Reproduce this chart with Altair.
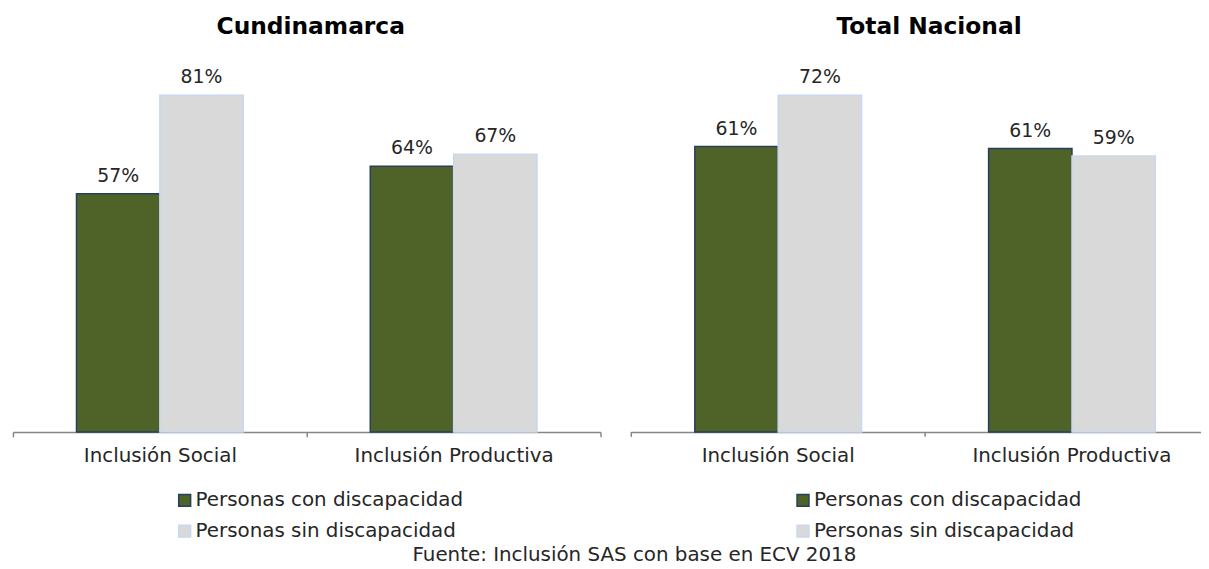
import altair as alt
import pandas as pd

# ---- data ----
categories = ["Inclusión Social", "Inclusión Productiva"]
series = ["Personas con discapacidad", "Personas sin discapacidad"]
panel_titles = ["Cundinamarca", "Total Nacional"]
cund_con = [0.573, 0.639]
cund_sin = [0.810, 0.668]
nac_con = [0.610, 0.606]
nac_sin = [0.720, 0.590]
source_text = "Fuente: Inclusión SAS con base en ECV 2018"

fill_colors = ["#4F6228", "#D9D9D9"]
stroke_colors = ["#243F60", "#C6D9F1"]

FONT = "DejaVu Sans"
TXT = "#262626"
AXIS_C = "#868686"
W = 592
W_RIGHT = 574
H = 377


def make_df(con, sin):
    rows = []
    for i, c in enumerate(categories):
        rows.append({"cat": c, "serie": series[0], "value": con[i]})
        rows.append({"cat": c, "serie": series[1], "value": sin[i]})
    return pd.DataFrame(rows)


def legend():
    return alt.Legend(
        orient="none", legendX=163, legendY=436, title=None, direction="vertical",
        labelFont=FONT, labelFontSize=20, labelColor=TXT, labelOffset=1, labelLimit=0,
        symbolType="square", symbolSize=144, symbolStrokeWidth=1.5,
        rowPadding=11, padding=0,
    )


def panel(df, title, title_dx, ymax, width, x_scale, xoff_scale, axis, extra_ticks):
    xenc = alt.X("cat:N", sort=categories, scale=x_scale, axis=axis, title=None)
    yenc = alt.Y("value:Q", scale=alt.Scale(domain=[0, ymax]), axis=None)
    xoff = alt.XOffset("serie:N", sort=series, scale=xoff_scale)
    base = alt.Chart(df).encode(x=xenc, xOffset=xoff, y=yenc)
    bars = base.mark_bar(strokeWidth=1.5).encode(
        color=alt.Color("serie:N", sort=series,
                        scale=alt.Scale(domain=series, range=fill_colors), legend=legend()),
        stroke=alt.Stroke("serie:N", sort=series,
                          scale=alt.Scale(domain=series, range=stroke_colors), legend=legend()),
    )
    labels = base.mark_text(dy=-12, baseline="alphabetic", font=FONT, fontSize=19,
                            color=TXT).encode(text=alt.Text("value:Q", format=".0%"))
    layers = [bars, labels]
    if extra_ticks:
        ticks = alt.Chart(pd.DataFrame({"cat": categories})).mark_rule(
            color=AXIS_C, strokeWidth=1.5
        ).encode(
            x=alt.X("cat:N", sort=categories, scale=x_scale, axis=axis, title=None,
                    bandPosition=0),
            y=alt.datum(0),
            y2=alt.value(H + 5),
        )
        layers.append(ticks)
    return alt.layer(*layers).properties(
        width=width, height=H,
        title=alt.Title(title, font=FONT, fontSize=23.5, fontWeight="bold", color="#000000",
                        baseline="alphabetic", offset=0, anchor="middle", dx=title_dx),
    )


def axis_def(show_ticks, label_offset):
    return alt.Axis(
        domainColor=AXIS_C, domainWidth=1.5, tickColor=AXIS_C, tickWidth=1.5,
        tickSize=5, tickBand="extent" if show_ticks else "center",
        tickOpacity=1 if show_ticks else 0,
        labelFont=FONT, labelFontSize=20, labelColor=TXT, labelAngle=0,
        labelPadding=9, labelLimit=0, labelOffset=label_offset, grid=False,
    )


left = panel(
    make_df(cund_con, cund_sin), panel_titles[0], 4, 0.9, W,
    alt.Scale(paddingInner=0, paddingOuter=0),
    alt.Scale(paddingOuter=0.762, paddingInner=0),
    axis_def(True, 0), False,
)
# right panel is cut by the page edge: step 296 px, bands 278 px wide
right = panel(
    make_df(nac_con, nac_sin), panel_titles[1], 13, 0.76, W_RIGHT,
    alt.Scale(paddingInner=0.0608, paddingOuter=0, align=0),
    alt.Scale(paddingOuter=0.6548, paddingInner=0, align=0.5818),
    axis_def(False, 9), True,
)

chart = alt.hconcat(left, right, spacing=29).resolve_scale(
    x="independent", y="independent", color="independent", stroke="independent",
    xOffset="independent",
).resolve_legend(color="independent", stroke="independent").properties(
    padding={"left": 4, "top": 5, "right": 0, "bottom": 0},
    title=alt.Title(source_text, orient="bottom", anchor="middle", font=FONT, fontSize=20,
                    fontWeight="normal", color=TXT, offset=4, dx=28),
).configure_view(stroke=None)

chart.save("out.html", embed_options={"renderer": "svg", "actions": False})
